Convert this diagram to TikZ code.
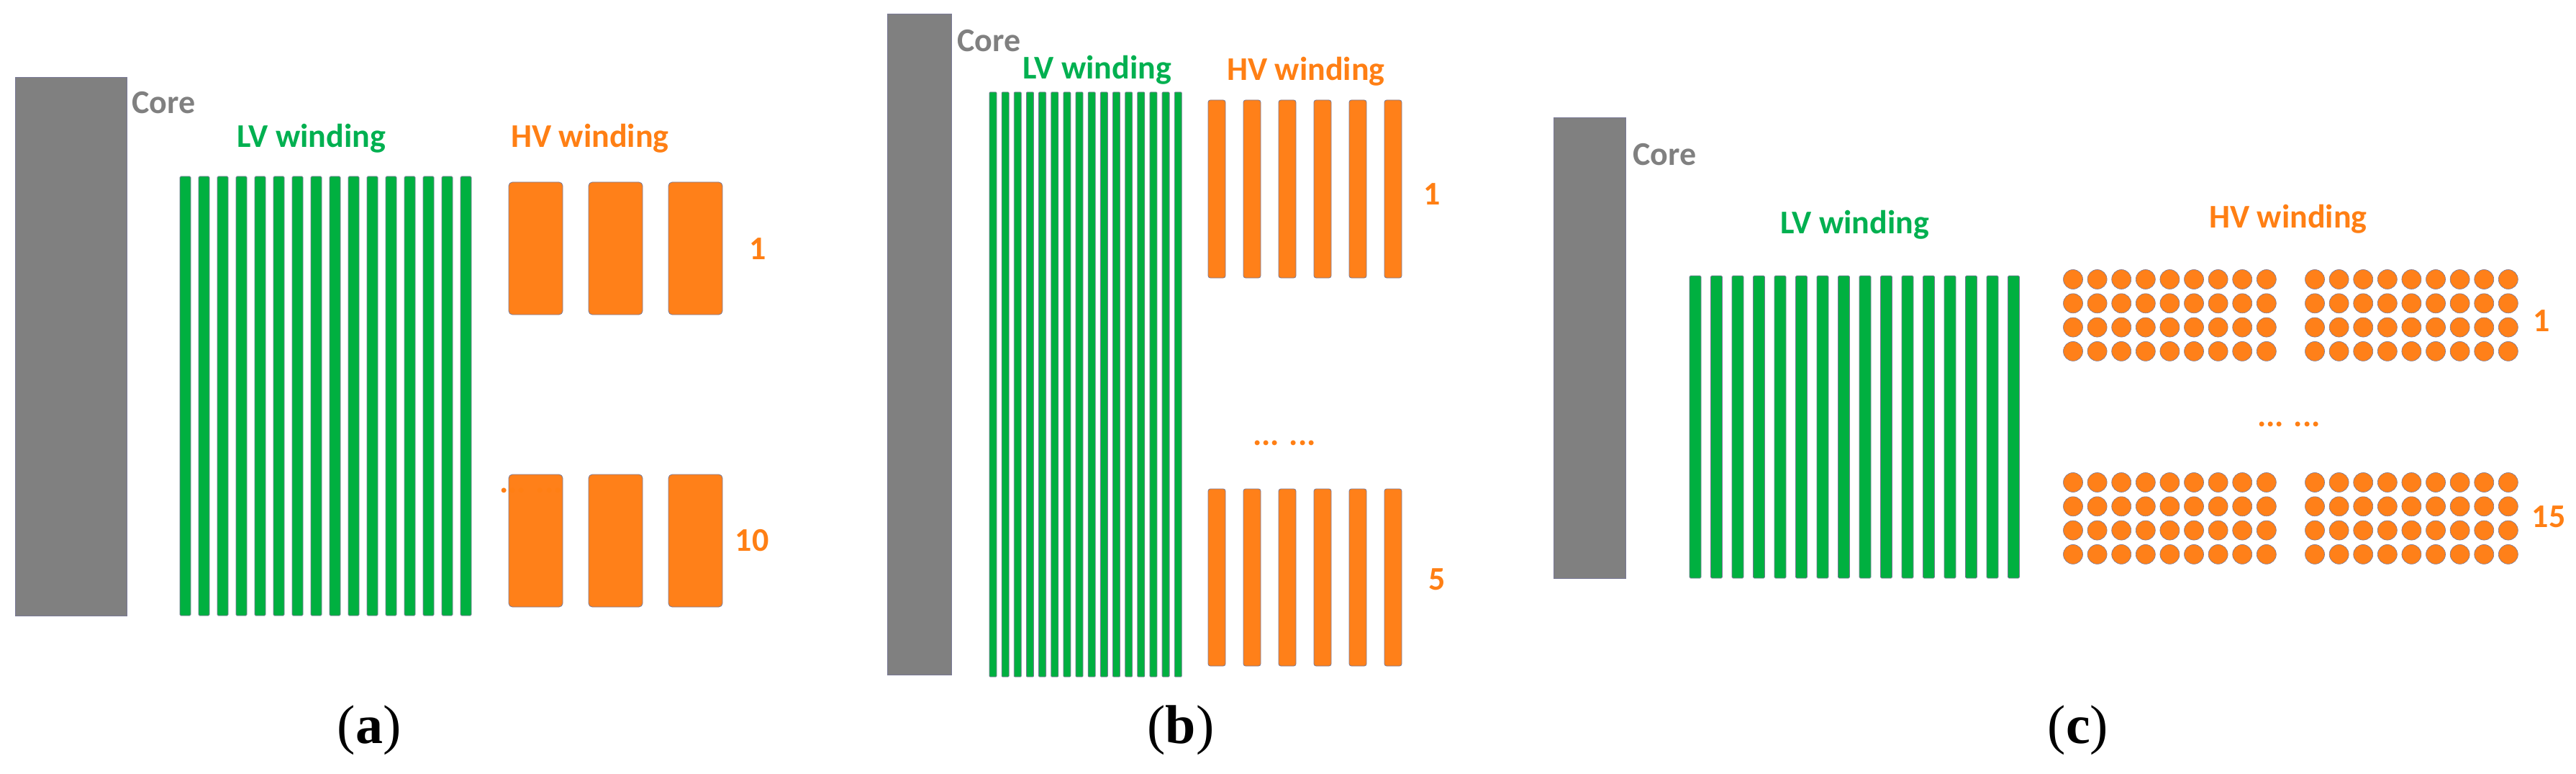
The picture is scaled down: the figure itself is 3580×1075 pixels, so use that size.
\documentclass[tikz,border=0pt]{standalone}
\usepackage{fontspec}
\setmainfont{Carlito}
\newfontfamily\capfont{Liberation Serif}
\definecolor{cgreen}{RGB}{0,176,64}
\definecolor{corange}{RGB}{255,128,25}
\definecolor{cgray}{RGB}{128,128,128}
\definecolor{cedge}{RGB}{120,120,150}
\definecolor{tgreen}{RGB}{0,176,80}
\definecolor{torange}{RGB}{255,127,20}
\begin{document}
\begin{tikzpicture}[x=1pt,y=-1pt,
  core/.style={fill=cgray,draw=cedge,line width=1pt},
  lv/.style={fill=cgreen,draw=cedge,line width=0.8pt,rounded corners=1.5pt},
  hv/.style={fill=corange,draw=cedge,line width=0.8pt,rounded corners=5pt},
  dot/.style={fill=corange,draw=cedge,line width=0.6pt},
  lbl/.style={font=\fontsize{46}{50}\selectfont\bfseries,inner sep=0pt,anchor=base},
  captxt/.style={font=\capfont\fontsize{76}{80}\selectfont,inner sep=0pt,anchor=base}]
\useasboundingbox (0,0) rectangle (3580,1075);
% ---------- (a)
\draw[core] (21,108) rectangle (176,855);
\node[lbl,anchor=base west,text=cgray] (coreA) at (183,158) {Core};
\node[lbl,text=tgreen] (lvA) at (433,205) {LV winding};
\node[lbl,text=torange] (hvA) at (820,205) {HV winding};
\foreach \i in {0,...,15} \draw[lv] ({250+26*\i},245) rectangle ({265+26*\i},855);
\foreach \x in {707,818,929} {
  \draw[hv] (\x,253) rectangle ({\x+75},437);
  \draw[hv] (\x,659) rectangle ({\x+75},843);}
\node[lbl,text=torange] (nA1) at (1053,360) {1};
\node[lbl,text=torange] (nA10) at (1045,765) {10};
\node[lbl,text=torange] (dA) at (738,684) {... ...};
\node[captxt] (ca) at (513,1032) {(\textbf{a})};
% ---------- (b)
\draw[core] (1233,20) rectangle (1322,937);
\node[lbl,anchor=base west,text=cgray] (coreB) at (1330,72) {Core};
\node[lbl,text=tgreen] (lvB) at (1525,110) {LV winding};
\node[lbl,text=torange] (hvB) at (1815,112) {HV winding};
\foreach \i in {0,...,15} \draw[lv,rounded corners=1pt] ({1375+17.15*\i},128) rectangle ({1385+17.15*\i},940);
\foreach \i in {0,...,5} {
  \draw[hv,rounded corners=3pt] ({1679+49*\i},139) rectangle ({1703+49*\i},386);
  \draw[hv,rounded corners=3pt] ({1679+49*\i},679) rectangle ({1703+49*\i},925);}
\node[lbl,text=torange] (nB1) at (1990,285) {1};
\node[lbl,text=torange] (nB5) at (1997,819) {5};
\node[lbl,text=torange] (dB) at (1785,618) {... ...};
\node[captxt] (cb) at (1641,1032) {(\textbf{b})};
% ---------- (c)
\draw[core] (2159,164) rectangle (2259,803);
\node[lbl,anchor=base west,text=cgray] (coreC) at (2269,230) {Core};
\node[lbl,text=tgreen] (lvC) at (2578,325) {LV winding};
\node[lbl,text=torange] (hvC) at (3180,317) {HV winding};
\foreach \i in {0,...,15} \draw[lv] ({2348+29.5*\i},383) rectangle ({2364+29.5*\i},803);
\foreach \gx in {2881,3217} \foreach \r in {0,...,3} \foreach \c in {0,...,8} {
  \draw[dot] ({\gx+33.6*\c},{388+33.3*\r}) circle (13.5);
  \draw[dot] ({\gx+33.6*\c},{670+33.3*\r}) circle (13.5);}
\node[lbl,text=torange] (nC1) at (3532,460) {1};
\node[lbl,text=torange] (nC15) at (3542,732) {15};
\node[lbl,text=torange] (dC) at (3181,592) {... ...};
\node[captxt] (cc) at (2888,1032) {(\textbf{c})};
\end{tikzpicture}
\end{document}
